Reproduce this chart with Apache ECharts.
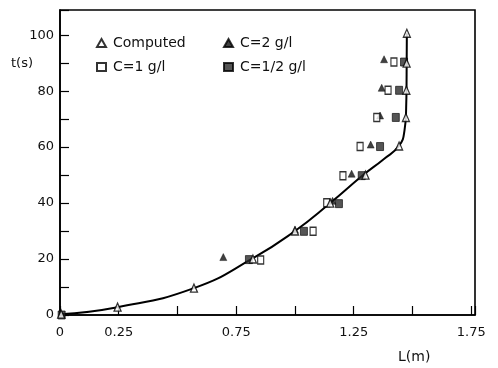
<!DOCTYPE html>
<html>
<head>
<meta charset="utf-8">
<script src="https://cdn.jsdelivr.net/npm/echarts@6/dist/echarts.min.js"></script>
<style>
html,body{margin:0;padding:0;background:#fff;}
#chart{width:498px;height:368px;}
</style>
</head>
<body>
<div id="chart"></div>
<script>
// ---- data ----
const xTickLabels = ['0', '0.25', '0.75', '1.25', '1.75'];
const yTickLabels = ['0', '20', '40', '60', '80', '100'];

const curveL = [0, 0.245, 0.57, 0.82, 1.0, 1.15, 1.29, 1.376, 1.443, 1.466, 1.473, 1.475, 1.476];
const curveT = [0.3, 2.8, 9.6, 20.2, 30, 40, 50, 55.6, 60.5, 66, 74, 86, 100.7];

const computedL = [0.005, 0.245, 0.57, 0.821, 1.0, 1.15, 1.30, 1.443, 1.472, 1.474, 1.475, 1.476];
const computedT = [0.3, 2.8, 9.6, 20, 30, 40, 50, 60.4, 70.6, 80.3, 90, 100.7];

const c2L = [0.695, 1.0, 1.16, 1.241, 1.322, 1.362, 1.369, 1.379];
const c2T = [20.7, 30.5, 40.8, 50.5, 60.9, 71.3, 81.2, 91.4];

const c1L = [0.854, 1.077, 1.135, 1.204, 1.277, 1.348, 1.396, 1.421];
const c1T = [19.7, 29.9, 40.1, 49.8, 60.2, 70.6, 80.3, 90.4];

const cHalfL = [0.007, 0.804, 1.038, 1.187, 1.284, 1.362, 1.429, 1.443, 1.464];
const cHalfT = [0, 19.8, 29.9, 39.8, 49.8, 60.2, 70.6, 80.3, 90.4];

const seriesNames = ['Computed', 'C=2 g/l', 'C=1 g/l', 'C=1/2 g/l'];

function pairs(xs, ys) { return xs.map((x, i) => [x, ys[i]]); }

const FONT = 'DejaVu Sans';
const txt = { fontFamily: FONT, fontSize: 13, color: '#111' };

const chart = echarts.init(document.getElementById('chart'), null, { renderer: 'canvas' });

function legendAt(name, left, top) {
  return {
    data: [name], left: left, top: top, padding: 0,
    itemWidth: 9, itemHeight: 8, itemGap: 0,
    textStyle: Object.assign({}, txt, { fontSize: 14, padding: [0, 0, 0, 2] }),
    selectedMode: false
  };
}

const option = {
  animation: false,
  backgroundColor: '#fff',
  grid: { left: 60, right: 23, top: 10, bottom: 53, show: true, borderColor: '#000', borderWidth: 1.6, backgroundColor: 'transparent' },
  legend: [
    legendAt(seriesNames[0], 96, 36),
    legendAt(seriesNames[1], 223, 36),
    legendAt(seriesNames[2], 96, 60),
    legendAt(seriesNames[3], 223, 60)
  ],
  xAxis: {
    type: 'value', min: 0, max: 1.766, interval: 0.25,
    axisLine: { show: true, lineStyle: { color: '#000', width: 1.6 } },
    axisTick: { show: true, inside: true, length: 9, lineStyle: { color: '#000', width: 1.2 } },
    splitLine: { show: false },
    axisLabel: Object.assign({}, txt, {
      margin: 11, showMaxLabel: true,
      formatter: function (v) {
        for (const s of xTickLabels) { if (Math.abs(parseFloat(s) - v) < 1e-6) return s; }
        return '';
      }
    })
  },
  yAxis: {
    type: 'value', min: 0, max: 109, interval: 10,
    axisLine: { show: true, lineStyle: { color: '#000', width: 1.6 } },
    axisTick: { show: true, inside: true, length: 9, lineStyle: { color: '#000', width: 1.2 } },
    splitLine: { show: false },
    axisLabel: Object.assign({}, txt, {
      margin: 6,
      formatter: function (v) {
        for (const s of yTickLabels) { if (Math.abs(parseFloat(s) - v) < 1e-6) return s; }
        return '';
      }
    })
  },
  graphic: [
    { type: 'text', left: 11, top: 57, style: { text: 't(s)', font: '13px ' + FONT, fill: '#111' } },
    { type: 'text', left: 398, top: 350, style: { text: 'L(m)', font: '14px ' + FONT, fill: '#111' } }
  ],
  series: [
    {
      name: 'curve', type: 'line', data: pairs(curveL, curveT),
      smooth: 0.5, showSymbol: false, symbol: 'none',
      lineStyle: { color: '#000', width: 2 }, z: 2, silent: true
    },
    {
      name: seriesNames[0], type: 'scatter', data: pairs(computedL, computedT),
      symbol: 'triangle', symbolSize: [7, 8],
      itemStyle: { color: '#fff', borderColor: '#000', borderWidth: 1.3 }, z: 5
    },
    {
      name: seriesNames[1], type: 'scatter', data: pairs(c2L, c2T),
      symbol: 'triangle', symbolSize: [7, 7],
      itemStyle: { color: '#111', borderColor: '#000', borderWidth: 0.5 }, z: 4
    },
    {
      name: seriesNames[2], type: 'scatter', data: pairs(c1L, c1T),
      symbol: 'rect', symbolSize: [6, 8],
      itemStyle: { color: '#fff', borderColor: '#000', borderWidth: 1.3 }, z: 4
    },
    {
      name: seriesNames[3], type: 'scatter', data: pairs(cHalfL, cHalfT),
      symbol: 'rect', symbolSize: [7, 8],
      itemStyle: { color: '#2a2a2a', borderColor: '#000', borderWidth: 0.8 }, z: 4
    }
  ]
};
chart.setOption(option);
</script>
</body>
</html>
